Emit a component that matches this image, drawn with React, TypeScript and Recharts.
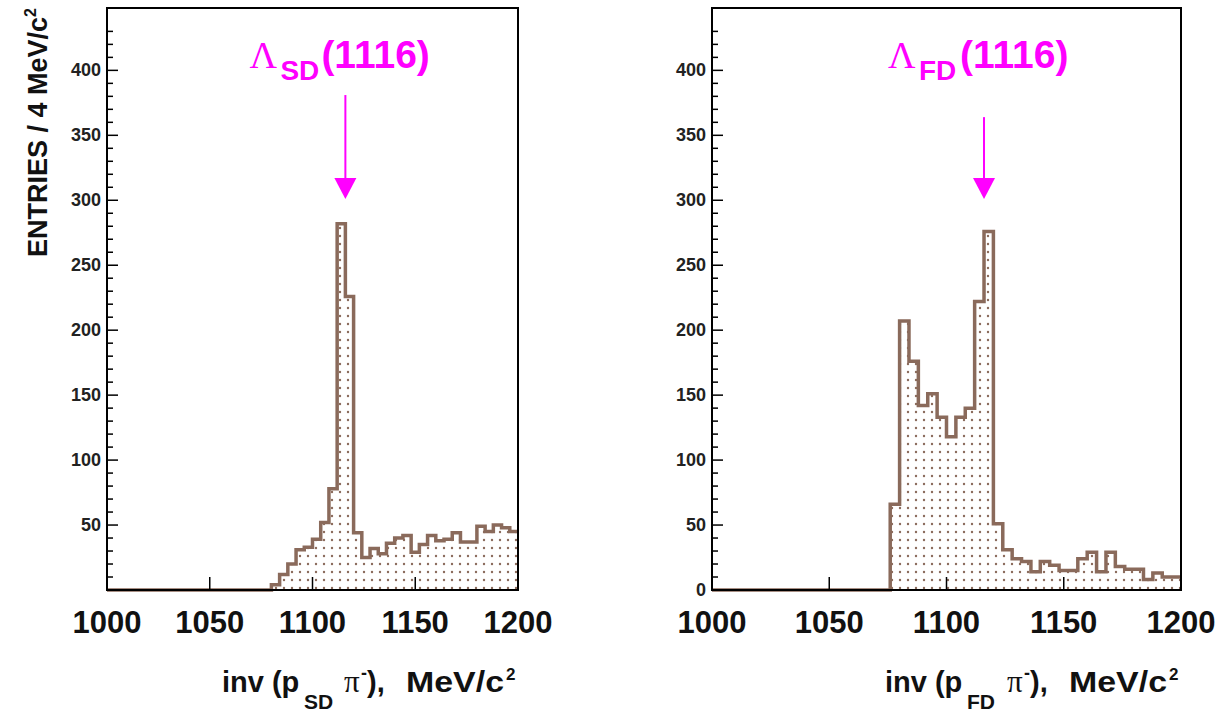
import React from 'react';
import { AreaChart, Area, XAxis, YAxis, ReferenceArea, ReferenceDot, ReferenceLine } from 'recharts';

// lower edges of the 4 MeV/c2 bins
const binEdges = [
  1000, 1004, 1008, 1012, 1016, 1020, 1024, 1028, 1032, 1036,
  1040, 1044, 1048, 1052, 1056, 1060, 1064, 1068, 1072, 1076,
  1080, 1084, 1088, 1092, 1096, 1100, 1104, 1108, 1112, 1116,
  1120, 1124, 1128, 1132, 1136, 1140, 1144, 1148, 1152, 1156,
  1160, 1164, 1168, 1172, 1176, 1180, 1184, 1188, 1192, 1196,
];

// entries per bin, SD and FD samples
const sdCounts = [
  0, 0, 0, 0, 0, 0, 0, 0, 0, 0,
  0, 0, 0, 0, 0, 0, 0, 0, 0, 0,
  4, 12, 20, 31, 33, 39, 52, 78, 282, 226,
  44, 25, 32, 28, 36, 40, 42, 29, 35, 42,
  38, 39, 44, 37, 37, 49, 45, 50, 48, 45,
];
const fdCounts = [
  0, 0, 0, 0, 0, 0, 0, 0, 0, 0,
  0, 0, 0, 0, 0, 0, 0, 0, 0, 66,
  207, 176, 142, 151, 133, 118, 133, 140, 222, 276,
  51, 31, 24, 22, 14, 22, 19, 15, 15, 24,
  29, 14, 29, 18, 16, 16, 8, 13, 10, 10,
];

const xTicks = [1000, 1050, 1100, 1150, 1200];
const yMajorTicks = [0, 50, 100, 150, 200, 250, 300, 350, 400];
const yMinorStep = 10;
const X_MAX = 1200;
const Y_MAX = 448;
const LAMBDA_MASS = 1116;

const LINE = '#8a6a5b';
const MAGENTA = '#ff00ff';
const FONT = '"Liberation Sans", Arial, sans-serif';
const SERIF = '"Liberation Serif", "Times New Roman", serif';

const yTicks = Array.from({ length: Y_MAX / yMinorStep }, (_, i) => i * yMinorStep);

function toRows(counts: number[]) {
  const rows = binEdges.map((m, i) => ({ m, n: counts[i] }));
  rows.push({ m: X_MAX, n: counts[counts.length - 1] });
  return rows;
}

function YTick(props: any) {
  const { x, y, payload, showZero } = props;
  const v = payload.value;
  const major = yMajorTicks.includes(v);
  return (
    <g>
      <line x1={x} x2={x + (major ? 11 : 6)} y1={y} y2={y} stroke="#000" strokeWidth={1.5} />
      {major && (v !== 0 || showZero) && (
        <text x={x - 6} y={y + 6} textAnchor="end" fontFamily={FONT} fontWeight="bold" fontSize={18} fill="#222">
          {v}
        </text>
      )}
    </g>
  );
}

function XTick(props: any) {
  const { x, y, payload } = props;
  return (
    <g>
      <line x1={x} x2={x} y1={y} y2={y - 13} stroke="#000" strokeWidth={1.5} />
      <text x={x} y={y + 43} textAnchor="middle" fontFamily={FONT} fontWeight="bold" fontSize={31} fill="#111">
        {payload.value}
      </text>
    </g>
  );
}

function ArrowHead(props: any) {
  const { cx, cy } = props;
  return <polygon points={`${cx - 11},${cy - 21} ${cx + 11},${cy - 21} ${cx},${cy}`} fill={MAGENTA} />;
}

function Label(props: any, sub: string) {
  const { cx, cy } = props;
  return (
    <text fill={MAGENTA}>
      <tspan x={cx - 96} y={cy} fontFamily={SERIF} fontSize={38}>Λ</tspan>
      <tspan x={cx - 65} y={cy + 12} fontFamily={FONT} fontWeight="bold" fontSize={28}>{sub}</tspan>
      <tspan x={cx - 24} y={cy} fontFamily={FONT} fontWeight="bold" fontSize={39}>(1116)</tspan>
    </text>
  );
}

interface PanelProps {
  id: string;
  counts: number[];
  sub: string;
  left: number;
  width: number;
  plotLeft: number;
  marginRight: number;
  showZero: boolean;
  arrowTop: number;
}

function Panel({ id, counts, sub, left, width, plotLeft, marginRight, showZero, arrowTop }: PanelProps) {
  const data = toRows(counts);
  const plotRight = width - marginRight;
  return (
    <div style={{ position: 'absolute', left, top: 0 }}>
      <AreaChart width={width} height={715} data={data} margin={{ top: 8, right: marginRight, bottom: 65, left: plotLeft - 60 }}>
        <defs>
          <pattern id={id} width={8} height={8} patternUnits="userSpaceOnUse">
            <rect width={8} height={8} fill="#fff" />
            <circle cx={4} cy={4} r={1.2} fill={LINE} />
          </pattern>
        </defs>
        <XAxis
          dataKey="m"
          type="number"
          domain={[1000, X_MAX]}
          ticks={xTicks}
          interval={0}
          height={60}
          tickSize={0}
          tickMargin={0}
          axisLine={false}
          tickLine={false}
          tick={<XTick />}
        />
        <YAxis
          type="number"
          domain={[0, Y_MAX]}
          ticks={yTicks}
          interval={0}
          width={60}
          tickSize={0}
          tickMargin={0}
          axisLine={false}
          tickLine={false}
          tick={<YTick showZero={showZero} />}
        />
        <Area
          type="stepAfter"
          dataKey="n"
          stroke={LINE}
          strokeWidth={3.5}
          fill={`url(#${id})`}
          fillOpacity={1}
          baseValue={0}
          dot={false}
          activeDot={false}
          isAnimationActive={false}
        />
        <ReferenceArea x1={1000} x2={X_MAX} y1={0} y2={Y_MAX} fill="none" stroke="#000" strokeWidth={2} ifOverflow="visible" />
        <ReferenceLine
          segment={[{ x: LAMBDA_MASS, y: arrowTop }, { x: LAMBDA_MASS, y: 315 }]}
          stroke={MAGENTA}
          strokeWidth={2}
          ifOverflow="visible"
        />
        <ReferenceDot x={LAMBDA_MASS} y={301} ifOverflow="visible" shape={(p: any) => <ArrowHead {...p} />} />
        <ReferenceDot x={LAMBDA_MASS} y={402} ifOverflow="visible" shape={(p: any) => Label(p, sub)} />
      </AreaChart>
      <svg width={width} height={715} style={{ position: 'absolute', left: 0, top: 0, pointerEvents: 'none' }}>
        <text fontFamily={FONT} fontWeight="bold" fill="#111">
          <tspan x={plotRight - 296} y={692} fontSize={29}>inv (p</tspan>
          <tspan x={plotRight - 214} y={709} fontSize={21}>{sub}</tspan>
          <tspan x={plotRight - 174} y={692} fontSize={31} fontFamily={SERIF} fontWeight="normal">π</tspan>
          <tspan x={plotRight - 157} y={679} fontSize={18}>-</tspan>
          <tspan x={plotRight - 151} y={692} fontSize={29}>),</tspan>
          <tspan x={plotRight - 112} y={692} fontSize={29} textLength={98} lengthAdjust="spacingAndGlyphs">MeV/c</tspan>
          <tspan x={plotRight - 12} y={680} fontSize={17}>2</tspan>
        </text>
      </svg>
    </div>
  );
}

export default function App() {
  return (
    <div style={{ position: 'absolute', left: 0, top: 0, width: 1218, height: 715, background: '#fff', overflow: 'hidden' }}>
      <Panel id="dotsSD" counts={sdCounts} sub="SD" left={0} width={560} plotLeft={107} marginRight={42} showZero={false} arrowTop={381} />
      <Panel id="dotsFD" counts={fdCounts} sub="FD" left={600} width={618} plotLeft={112} marginRight={37} showZero={true} arrowTop={364} />
      <svg width={120} height={300} style={{ position: 'absolute', left: 0, top: 0 }}>
        <text transform="translate(47, 8) rotate(-90)" textAnchor="end" fontFamily={FONT} fontWeight="bold" fontSize={27} fill="#111">
          ENTRIES / 4 MeV/c<tspan dy={-11} fontSize={16}>2</tspan>
        </text>
      </svg>
    </div>
  );
}
